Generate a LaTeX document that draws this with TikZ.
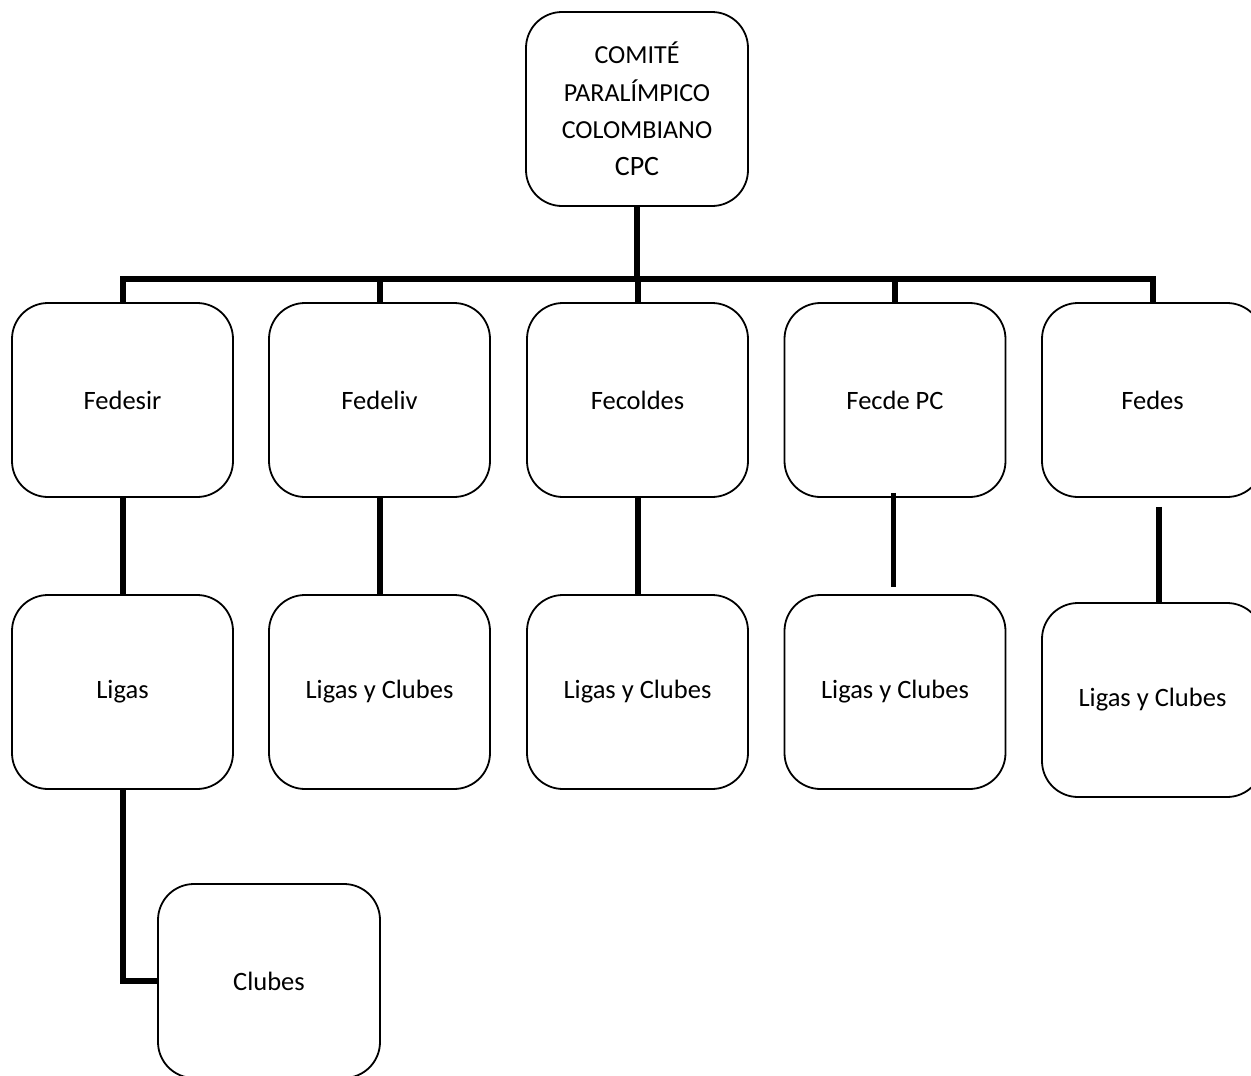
\documentclass[tikz,border=0pt]{standalone}
\usepackage{fontspec}
\setmainfont{Carlito}
\begin{document}
\begin{tikzpicture}[x=1pt,y=-1pt,
  box/.style={draw=black, line width=1.8pt, rounded corners=36pt, minimum width=221pt, minimum height=194pt, inner sep=0pt, font=\fontsize{26.5}{31}\selectfont, align=center},
  link/.style={line width=6pt, line join=miter},
  thinlink/.style={line width=5pt}]
\useasboundingbox (0,0) rectangle (1251,1076);
\node[box, minimum width=222pt, font=\fontsize{26}{37.3}\selectfont] (cpc) at (637,109) {COMITÉ\\PARALÍMPICO\\COLOMBIANO\\{\fontsize{28}{37.3}\selectfont CPC}};
\node[box] (fedesir) at (122.5,400) {Fedesir};
\node[box] (fedeliv) at (379.5,400) {Fedeliv};
\node[box] (fecoldes) at (637.5,400) {Fecoldes};
\node[box] (fecde) at (895,400) {Fecde PC};
\node[box] (fedes) at (1152.5,400) {Fedes};
\node[box] (ligas) at (122.5,692) {Ligas};
\node[box] (lc2) at (379.5,692) {Ligas y Clubes};
\node[box] (lc3) at (637.5,692) {Ligas y Clubes};
\node[box] (lc4) at (895,692) {Ligas y Clubes};
\node[box] (lc5) at (1152.5,700) {Ligas y Clubes};
\node[box, minimum width=222pt] (clubes) at (269,981) {Clubes};
\coordinate (bar) at (637,279);
\draw[link] (cpc.south) -- (bar);
\draw[link] (fedesir.north) |- (bar) -| (fedes.north);
\draw[link] (fedeliv.north |- bar) -- (fedeliv.north);
\draw[link] (fecoldes.north |- bar) -- (fecoldes.north);
\draw[link] (fecde.north |- bar) -- (fecde.north);
\draw[link] (fedesir.south) -- (ligas.north);
\draw[link] (fedeliv.south) -- (lc2.north);
\draw[link] (fecoldes.south) -- (lc3.north);
\coordinate (f4a) at ([xshift=-2pt,yshift=5pt]fecde.south);
\coordinate (f4b) at ([xshift=-2pt,yshift=7pt]lc4.north);
\draw[thinlink] (f4a) -- (f4b);
\coordinate (f5a) at ([xshift=6.5pt,yshift=-9pt]fedes.south);
\draw[link] (f5a) -- (f5a |- lc5.north);
\draw[link] (ligas.south) |- (clubes.west);
\end{tikzpicture}
\end{document}
